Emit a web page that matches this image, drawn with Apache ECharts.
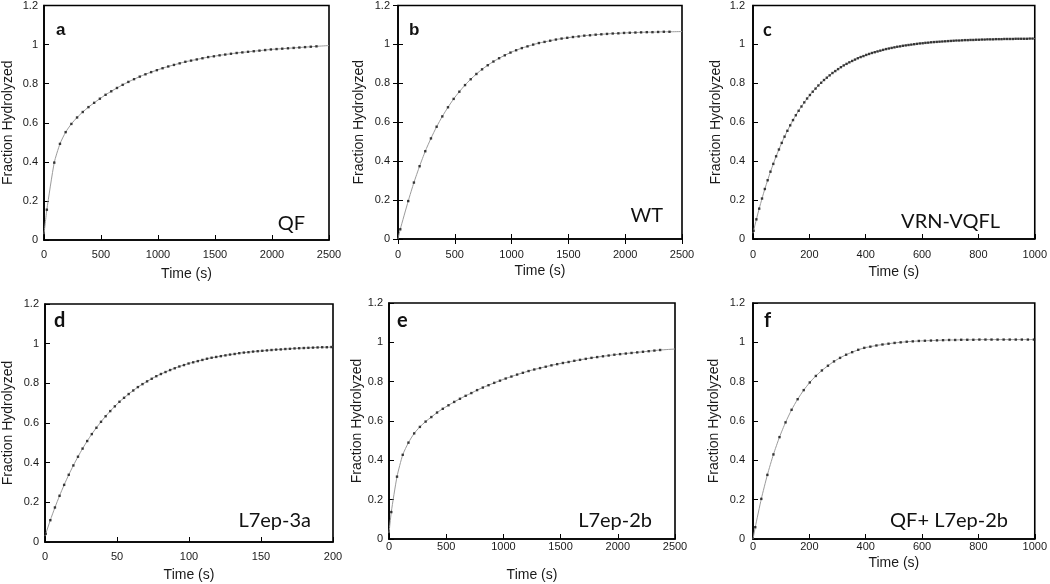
<!DOCTYPE html>
<html><head><meta charset="utf-8">
<script src="https://cdn.jsdelivr.net/npm/echarts@6/dist/echarts.min.js"></script>
<style>html,body{margin:0;padding:0;background:#fff}#c{width:1050px;height:584px}</style>
</head><body><div id="c"></div>
<script>
// ---- data ----
const yTicks = [0, 0.2, 0.4, 0.6, 0.8, 1, 1.2];
const xTicksA = [0, 500, 1000, 1500, 2000, 2500];
const xTicksC = [0, 200, 400, 600, 800, 1000];
const xTicksD = [0, 50, 100, 150, 200];

const aTime = [25,90,140,190,240,290,340,390,440,490,540,590,640,690,740,790,840,890,940,990,1040,1090,1140,1190,1240,1290,1340,1390,1440,1490,1540,1590,1640,1690,1740,1790,1840,1890,1940,1990,2040,2090,2140,2190,2240,2290,2340,2390];
const aFrac = [0.155,0.396,0.492,0.552,0.594,0.627,0.655,0.680,0.702,0.723,0.743,0.761,0.778,0.794,0.809,0.823,0.836,0.848,0.859,0.869,0.879,0.888,0.896,0.904,0.912,0.918,0.924,0.930,0.936,0.940,0.945,0.949,0.953,0.957,0.960,0.963,0.966,0.969,0.972,0.975,0.977,0.979,0.981,0.983,0.985,0.987,0.989,0.991];
const aFitEnds = [[0,0.03],[2500,0.995]];

const bTime = [20,90,140,190,240,290,340,390,440,490,540,590,640,690,740,790,840,890,940,990,1040,1090,1140,1190,1240,1290,1340,1390,1440,1490,1540,1590,1640,1690,1740,1790,1840,1890,1940,1990,2040,2090,2140,2190,2240,2290,2340,2390];
const bFrac = [0.05,0.195,0.290,0.374,0.451,0.517,0.577,0.630,0.677,0.720,0.757,0.791,0.821,0.848,0.872,0.893,0.912,0.929,0.944,0.958,0.970,0.981,0.990,0.999,1.007,1.013,1.019,1.025,1.030,1.034,1.038,1.041,1.045,1.047,1.050,1.052,1.054,1.056,1.057,1.059,1.060,1.061,1.062,1.063,1.063,1.064,1.065,1.065];
const bFitEnds = [[0,0],[2500,1.066]];

const cTime = [2,12,22,32,42,52,62,72,82,92,102,112,122,132,142,152,162,172,182,192,202,212,222,232,242,252,262,272,282,292,302,312,322,332,342,352,362,372,382,392,402,412,422,432,442,452,462,472,482,492,502,512,522,532,542,552,562,572,582,592,602,612,622,632,642,652,662,672,682,692,702,712,722,732,742,752,762,772,782,792,802,812,822,832,842,852,862,872,882,892,902,912,922,932,942,952,962,972,982,992];
const cFrac = [0.042,0.101,0.156,0.208,0.257,0.302,0.346,0.386,0.425,0.460,0.494,0.526,0.556,0.584,0.611,0.636,0.659,0.681,0.702,0.722,0.740,0.757,0.773,0.789,0.803,0.817,0.829,0.841,0.853,0.863,0.873,0.883,0.892,0.900,0.908,0.915,0.922,0.929,0.935,0.940,0.946,0.951,0.956,0.960,0.964,0.968,0.972,0.976,0.979,0.982,0.985,0.988,0.990,0.993,0.995,0.997,0.999,1.001,1.003,1.005,1.006,1.008,1.009,1.011,1.012,1.013,1.014,1.015,1.016,1.017,1.018,1.019,1.020,1.020,1.021,1.022,1.022,1.023,1.023,1.024,1.024,1.025,1.025,1.026,1.026,1.026,1.027,1.027,1.027,1.028,1.028,1.028,1.028,1.029,1.029,1.029,1.029,1.029,1.030,1.030];
const cFitEnds = [[0,0.03],[1000,1.030]];

const dTime = [0.5,3.7,6.9,10.1,13.3,16.5,19.7,22.9,26.1,29.3,32.5,35.7,38.9,42.1,45.3,48.5,51.7,54.9,58.1,61.3,64.5,67.7,70.9,74.1,77.3,80.5,83.7,86.9,90.1,93.3,96.5,99.7,102.9,106.1,109.3,112.5,115.7,118.9,122.1,125.3,128.5,131.7,134.9,138.1,141.3,144.5,147.7,150.9,154.1,157.3,160.5,163.7,166.9,170.1,173.3,176.5,179.7,182.9,186.1,189.3,192.5,195.7,198.9];
const dFrac = [0.041,0.110,0.174,0.233,0.288,0.339,0.386,0.430,0.471,0.509,0.544,0.576,0.606,0.634,0.660,0.684,0.707,0.727,0.746,0.764,0.781,0.796,0.810,0.823,0.836,0.847,0.857,0.867,0.876,0.885,0.892,0.900,0.906,0.912,0.918,0.924,0.929,0.933,0.937,0.941,0.945,0.948,0.952,0.955,0.957,0.960,0.962,0.964,0.966,0.968,0.970,0.971,0.973,0.974,0.976,0.977,0.978,0.979,0.980,0.981,0.982,0.982,0.983];
const dFitEnds = [[0,0.03],[200,0.985]];

const eTime = [20,70,120,170,220,270,320,370,420,470,520,570,620,670,720,770,820,870,920,970,1020,1070,1120,1170,1220,1270,1320,1370,1420,1470,1520,1570,1620,1670,1720,1770,1820,1870,1920,1970,2020,2070,2120,2170,2220,2270,2320,2370];
const eFrac = [0.137,0.317,0.428,0.490,0.537,0.570,0.597,0.620,0.643,0.662,0.680,0.697,0.713,0.728,0.742,0.757,0.770,0.782,0.794,0.805,0.816,0.826,0.836,0.845,0.854,0.862,0.869,0.876,0.883,0.889,0.895,0.900,0.906,0.911,0.916,0.921,0.925,0.929,0.933,0.937,0.940,0.943,0.946,0.949,0.952,0.955,0.958,0.961];
const eFitEnds = [[0,0.03],[2500,0.966]];

const fTime = [8,29.5,51,72.5,94,115.5,137,158.5,180,201.5,223,244.5,266,287.5,309,330.5,352,373.5,395,416.5,438,459.5,481,502.5,524,545.5,567,588.5,610,631.5,653,674.5,696,717.5,739,760.5,782,803.5,825,846.5,868,889.5,911,932.5,954,975.5,997];
const fFrac = [0.060,0.204,0.326,0.430,0.518,0.593,0.657,0.711,0.757,0.796,0.829,0.857,0.881,0.903,0.921,0.937,0.950,0.962,0.972,0.978,0.984,0.989,0.993,0.997,1.000,1.003,1.005,1.007,1.008,1.009,1.010,1.011,1.012,1.012,1.013,1.013,1.013,1.014,1.014,1.014,1.014,1.014,1.014,1.014,1.014,1.014,1.014];
const fFitEnds = [[0,0],[1000,1.014]];

const sampleNames = ['QF', 'WT', 'VRN-VQFL', 'L7ep-3a', 'L7ep-2b', 'QF+ L7ep-2b'];
const panelLetters = ['a', 'b', 'c', 'd', 'e', 'f'];

// ---- layout ----
const panels = [
  {t:aTime, v:aFrac, ends:aFitEnds, xt:xTicksA, grid:{left:44,top:4,width:285,height:236}, yGap:29, yMargin:6, xMargin:9, xGap:27,
   letter:{x:56,y:39,font:'bold 17px "Liberation Sans", Arial'}, name:{x:305,y:234}},
  {t:bTime, v:bFrac, ends:bFitEnds, xt:xTicksA, grid:{left:398,top:4,width:284,height:235}, yGap:32, yMargin:8, xMargin:10, xGap:25, mirror:true,
   letter:{x:409,y:39,font:'bold 17px "Liberation Sans", Arial'}, name:{x:663,y:226}},
  {t:cTime, v:cFrac, ends:cFitEnds, xt:xTicksC, grid:{left:753,top:4,width:284,height:235}, yGap:30, yMargin:8, xMargin:10, xGap:26,
   letter:{x:763,y:39,font:'bold 18px Lato'}, name:{x:1000,y:232}},
  {t:dTime, v:dFrac, ends:dFitEnds, xt:xTicksD, grid:{left:44,top:304,width:289,height:238}, yGap:30, yMargin:6, xMargin:9, xGap:26,
   letter:{x:54,y:331,font:'bold 20px Lato'}, name:{x:311,y:531}},
  {t:eTime, v:eFrac, ends:eFitEnds, xt:xTicksA, grid:{left:389,top:303,width:286,height:236}, yGap:25, yMargin:6, xMargin:2, xGap:29,
   letter:{x:397,y:331,font:'bold 20px Lato'}, name:{x:652,y:531}},
  {t:fTime, v:fFrac, ends:fFitEnds, xt:xTicksC, grid:{left:753,top:303,width:285,height:236}, yGap:32, yMargin:8, xMargin:2, xGap:17,
   letter:{x:764,y:331,font:'bold 20px Lato'}, name:{x:1008,y:531}}
];

const TXT = '#1a1a1a';
const grids = [], xAxes = [], yAxes = [], series = [], graphics = [];

panels.forEach((p, i) => {
  grids.push(Object.assign({show:true, borderColor:'#000', borderWidth:1.6, backgroundColor:'transparent', containLabel:false}, p.grid));
  const xMax = p.xt[p.xt.length-1];
  const xStep = p.xt[1] - p.xt[0];
  xAxes.push({
    type:'value', gridIndex:i, min:p.xt[0], max:xMax, interval:xStep,
    name:'Time (s)', nameLocation:'middle', nameGap:p.xGap,
    nameTextStyle:{fontFamily:'"Liberation Sans", Arial', fontSize:14, color:TXT},
    axisLine:{show:true, onZero:false, lineStyle:{color:'#000', width:1.6}},
    axisTick:{show:true, inside:true, length:5, lineStyle:{color:'#000', width:1}},
    axisLabel:{margin:p.xMargin, fontFamily:'"Liberation Sans", Arial', fontSize:11, color:TXT,
      formatter: v => String(v)},
    splitLine:{show:false}
  });
  yAxes.push({
    type:'value', gridIndex:i, min:yTicks[0], max:yTicks[yTicks.length-1], interval:yTicks[1]-yTicks[0],
    name:'Fraction Hydrolyzed', nameLocation:'middle', nameGap:p.yGap,
    nameTextStyle:{fontFamily:'"Liberation Sans", Arial', fontSize:14, color:TXT},
    axisLine:{show:true, onZero:false, lineStyle:{color:'#000', width:1.6}},
    axisTick:{show:true, inside:true, length:5, lineStyle:{color:'#000', width:1}},
    axisLabel:{margin:p.yMargin, fontFamily:'"Liberation Sans", Arial', fontSize:11, color:TXT,
      formatter: v => String(Math.round(v*10)/10)},
    splitLine:{show:false}
  });
  const pts = p.t.map((t, k) => [t, p.v[k]]);
  series.push({
    type:'line', xAxisIndex:i, yAxisIndex:i, data:[p.ends[0]].concat(pts, [p.ends[1]]),
    showSymbol:false, smooth:0.2, lineStyle:{color:'#9b9b9b', width:1}, silent:true, z:2
  });
  series.push({
    type:'scatter', xAxisIndex:i, yAxisIndex:i, data:pts,
    symbol:'rect', symbolSize:2.4, itemStyle:{color:'#111'}, silent:true, z:3
  });
  graphics.push({type:'text', style:{text:panelLetters[i], x:p.letter.x, y:p.letter.y, font:p.letter.font, fill:'#111', align:'left', verticalAlign:'bottom'}});
  graphics.push({type:'text', style:{text:sampleNames[i], x:p.name.x, y:p.name.y, font:'20px Lato', fill:'#111', align:'right', verticalAlign:'bottom'}});
});

// mirrored ticks on panel b (top and right)
panels.forEach((p, i) => {
  if (!p.mirror) return;
  const xMax = p.xt[p.xt.length-1];
  xAxes.push({type:'value', gridIndex:i, position:'top', min:p.xt[0], max:xMax, interval:p.xt[1]-p.xt[0],
    axisLine:{show:false}, axisTick:{show:true, inside:true, length:5, lineStyle:{color:'#000', width:1}},
    axisLabel:{show:false}, splitLine:{show:false}});
  yAxes.push({type:'value', gridIndex:i, position:'right', min:yTicks[0], max:yTicks[yTicks.length-1], interval:yTicks[1]-yTicks[0],
    axisLine:{show:false}, axisTick:{show:true, inside:true, length:5, lineStyle:{color:'#000', width:1}},
    axisLabel:{show:false}, splitLine:{show:false}});
});

const chart = echarts.init(document.getElementById('c'), null, {renderer:'canvas'});
chart.setOption({
  animation:false,
  backgroundColor:'#fff',
  grid:grids, xAxis:xAxes, yAxis:yAxes, series:series, graphic:graphics
});
</script></body></html>
